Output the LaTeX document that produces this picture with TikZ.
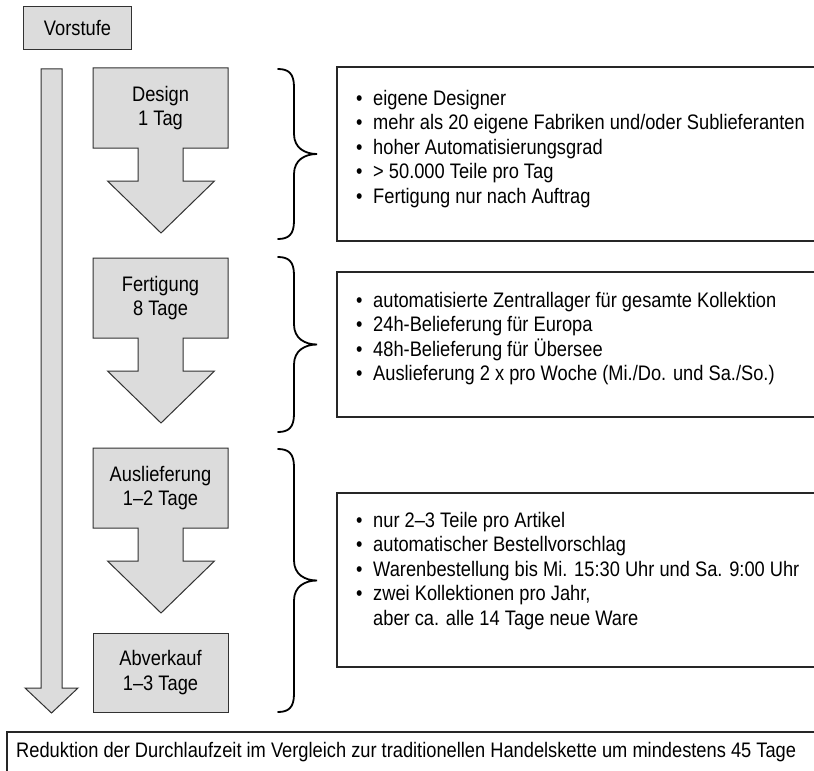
\documentclass[tikz,border=0pt]{standalone}
\usepackage{fontspec}
\setmainfont[FakeStretch=0.87]{Liberation Sans}
\definecolor{boxgray}{RGB}{220,220,220}
\definecolor{edgegray}{RGB}{50,50,50}
\newcommand\bul{\makebox[17bp][l]{\textbullet}}
\begin{document}
\begin{tikzpicture}[x=1bp,y=-1bp,
  font=\fontsize{21bp}{24.5bp}\selectfont,
  grayshape/.style={fill=boxgray, draw=edgegray, line width=1bp},
  infobox/.style={draw=black!85, line width=1.5bp},
  bracestyle/.style={draw=black, line width=1.8bp, line cap=round},
  lbl/.style={inner sep=0pt, align=center},
  itemtext/.style={inner sep=0pt, align=left, anchor=north west}]
\clip (0,0) rectangle (814,771);
\fill[white] (0,0) rectangle (814,771);
% Vorstufe
\node[grayshape, lbl, minimum width=107bp, minimum height=43bp] (vor) at (77.5,28.5) {Vorstufe};
% long arrow
\draw[grayshape] (41,69) -- (62,69) -- (62,688) -- (78,688) -- (51.5,713) -- (25,688) -- (41,688) -- cycle;
% block arrows
\foreach \t in {68,258,448}
  \draw[grayshape] (93,\t) -- (228,\t) -- (228,\t+80) -- (183,\t+80) -- (183,\t+113) -- (214.5,\t+113) -- (161,\t+165) -- (107.5,\t+113) -- (138,\t+113) -- (138,\t+80) -- (93,\t+80) -- cycle;
\node[lbl] (design) at (160.5,108) {Design\\1 Tag};
\node[lbl] (fert) at (160.5,298) {Fertigung\\8 Tage};
\node[lbl] (ausl) at (160.5,488) {Auslieferung\\1–2 Tage};
\node[grayshape, lbl, minimum width=135bp, minimum height=79bp] (abv) at (160.5,672.5) {Abverkauf\\1–3 Tage};
% braces
\foreach \a/\b in {69/239,257/432,449/712}{
  \pgfmathsetmacro\m{(\a+\b)/2}
  \draw[bracestyle] (278,\a) .. controls (289,\a) and (294,\a+5) .. (294,\a+18)
    -- (294,\m-20) .. controls (294,\m-6) and (305,\m) .. (317,\m)
    .. controls (305,\m) and (294,\m+6) .. (294,\m+20)
    -- (294,\b-18) .. controls (294,\b-5) and (289,\b) .. (278,\b);
}
% info boxes
\draw[infobox] (337,67) rectangle (840,241);
\draw[infobox] (337,272) rectangle (840,417);
\draw[infobox] (337,493) rectangle (840,667);
\node[itemtext] (info1) at (356,90) {\bul eigene Designer\\\bul mehr als 20 eigene Fabriken und/oder Sublieferanten\\\bul hoher Automatisierungsgrad\\\bul > 50.000 Teile pro Tag\\\bul Fertigung nur nach Auftrag};
\node[itemtext] (info2) at (356,292) {\bul automatisierte Zentrallager für gesamte Kollektion\\\bul 24h-Belieferung für Europa\\\bul 48h-Belieferung für Übersee\\\bul Auslieferung 2 x pro Woche (Mi./Do. und Sa./So.)};
\node[itemtext] (info3) at (356,512) {\bul nur 2–3 Teile pro Artikel\\\bul automatischer Bestellvorschlag\\\bul Warenbestellung bis Mi. 15:30 Uhr und Sa. 9:00 Uhr\\\bul zwei Kollektionen pro Jahr,\\\hspace*{17bp}aber ca. alle 14 Tage neue Ware};
% bottom
\draw[infobox] (7,732) rectangle (840,790);
\node[inner sep=0pt, anchor=west] (summary) at (16,752) {Reduktion der Durchlaufzeit im Vergleich zur traditionellen Handelskette um mindestens 45 Tage};
\end{tikzpicture}
\end{document}
